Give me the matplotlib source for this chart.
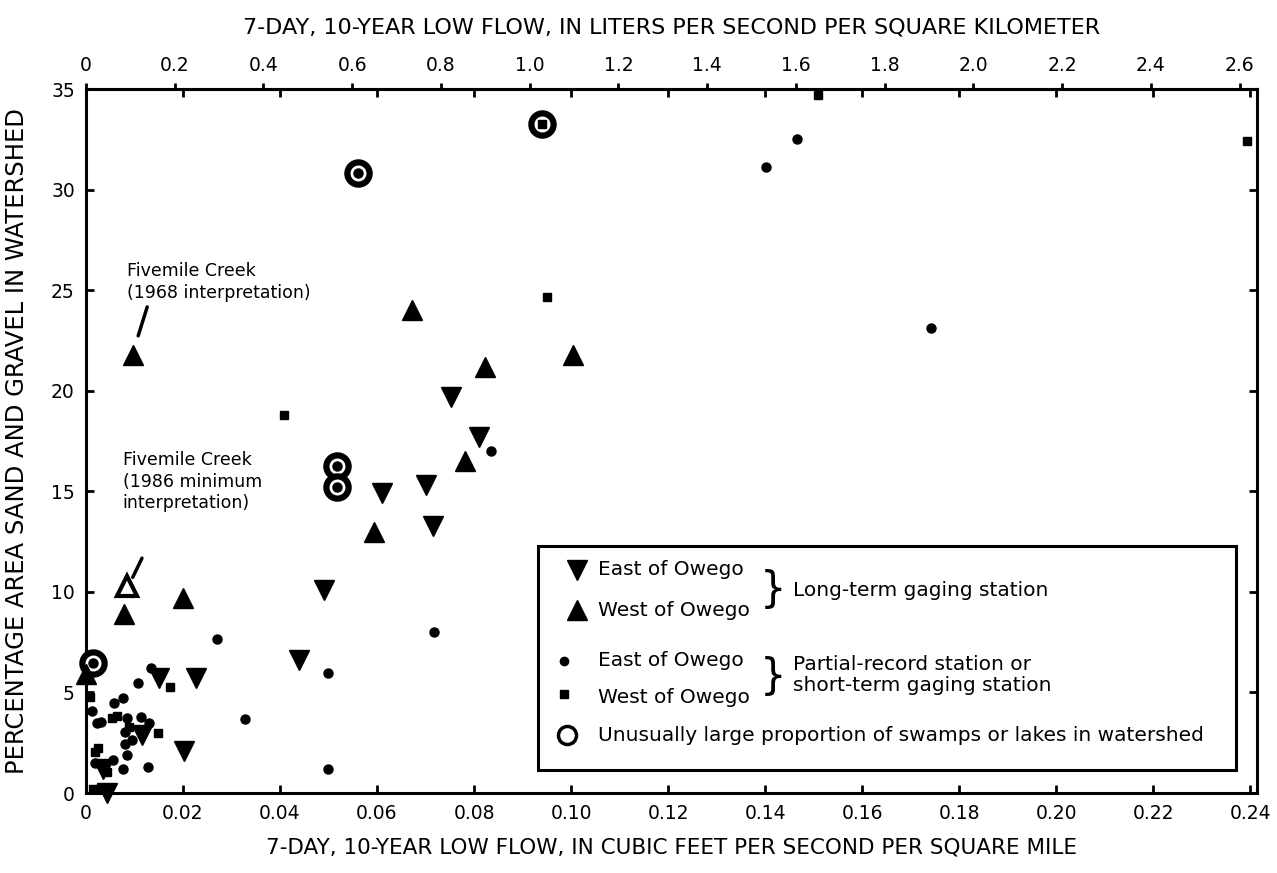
import matplotlib.pyplot as plt
from matplotlib.patches import Rectangle

plt.rcParams['font.family'] = ['DejaVu Sans']

# long-term gaging stations (cfs per sq mi, percent sand and gravel)
lt_east_x = [0.0752, 0.0810, 0.0610, 0.0701, 0.0716, 0.0491, 0.0439, 0.0151, 0.0227, 0.0115, 0.0203, 0.0036, 0.0043]
lt_east_y = [19.7, 17.7, 14.9, 15.3, 13.3, 10.1, 6.6, 5.7, 5.7, 2.9, 2.1, 1.2, 0.0]

lt_west_x = [0.0098, 0.0201, 0.0079, 0.0, 0.0594, 0.0781, 0.0672, 0.0823, 0.1005]
lt_west_y = [21.8, 9.7, 8.9, 5.9, 13.0, 16.5, 24.0, 21.2, 21.8]

# Fivemile Creek, 1986 minimum interpretation
fm86_x = [0.0084]
fm86_y = [10.3]

# partial-record or short-term stations
pr_east_x = [0.0270, 0.0135, 0.0107, 0.0076, 0.0058, 0.0012, 0.0328, 0.0022, 0.0032, 0.0084,
             0.0113, 0.0130, 0.0080, 0.0094, 0.0080, 0.0085, 0.0056, 0.0019, 0.0076, 0.0128,
             0.0500, 0.0498, 0.0834, 0.1465, 0.1402, 0.1742, 0.0718, 0.0025,
             0.0014, 0.0518, 0.0518, 0.0561]
pr_east_y = [7.65, 6.24, 5.49, 4.71, 4.49, 4.10, 3.68, 3.47, 3.55, 3.72,
             3.76, 3.47, 3.05, 2.64, 2.43, 1.89, 1.64, 1.48, 1.17, 1.31,
             5.96, 1.17, 16.98, 32.5, 31.1, 23.13, 8.0, 0.2,
             6.46, 16.28, 15.22, 30.81]

pr_west_x = [0.0173, 0.0008, 0.0053, 0.0063, 0.0089, 0.0149, 0.0019, 0.0025, 0.0043, 0.0015,
             0.0408, 0.0951, 0.1510, 0.2393, 0.0940]
pr_west_y = [5.29, 4.79, 3.72, 3.83, 3.30, 2.96, 2.06, 2.23, 1.06, 0.18,
             18.8, 24.65, 34.69, 32.42, 33.25]

# stations with many swamps or lakes (circled)
swamp_x = [0.0014, 0.0518, 0.0518, 0.0561, 0.0940]
swamp_y = [6.46, 16.28, 15.22, 30.81, 33.25]

CFS_TO_LPS = 10.933

fig = plt.figure(figsize=(12.77, 8.73), dpi=100)
ax = fig.add_axes([0.0673, 0.0916, 0.9170, 0.8064])

ax.plot(swamp_x, swamp_y, 'o', ms=16, mfc='white', mec='black', mew=4.5, clip_on=False, zorder=3)
ax.plot(lt_east_x, lt_east_y, 'v', ms=15, color='black', clip_on=False, zorder=4)
ax.plot(lt_west_x, lt_west_y, '^', ms=15, color='black', clip_on=False, zorder=4)
ax.plot(fm86_x, fm86_y, '^', ms=14, mfc='white', mec='black', mew=3, clip_on=False, zorder=4)
ax.plot(pr_east_x, pr_east_y, 'o', ms=6.5, color='black', clip_on=False, zorder=4)
ax.plot(pr_west_x, pr_west_y, 's', ms=6, color='black', clip_on=False, zorder=4)

ax.set_xlim(0, 0.2414)
ax.set_ylim(0, 35)
ax.set_xticks([i * 0.02 for i in range(13)])
ax.set_xticklabels(['0', '0.02', '0.04', '0.06', '0.08', '0.10', '0.12', '0.14',
                    '0.16', '0.18', '0.20', '0.22', '0.24'])
ax.set_yticks(range(0, 36, 5))
ax.tick_params(direction='in', top=True, right=True, length=6, width=2,
               labelsize=13.5, pad=8)
for s in ax.spines.values():
    s.set_linewidth(2.2)

ax.set_xlabel('7-DAY, 10-YEAR LOW FLOW, IN CUBIC FEET PER SECOND PER SQUARE MILE',
              fontsize=15.5, labelpad=10)
ax.set_ylabel('PERCENTAGE AREA SAND AND GRAVEL IN WATERSHED', fontsize=17.5)
ax.yaxis.set_label_coords(-0.049, 0.5)

top = ax.secondary_xaxis('top', functions=(lambda v: v * CFS_TO_LPS, lambda v: v / CFS_TO_LPS))
top.set_xticks([i * 0.2 for i in range(14)])
top.set_xticklabels(['0', '0.2', '0.4', '0.6', '0.8', '1.0', '1.2', '1.4', '1.6',
                     '1.8', '2.0', '2.2', '2.4', '2.6'])
top.tick_params(direction='out', length=4, width=2, labelsize=13.5, pad=6)
top.spines['top'].set_linewidth(2.2)
top.set_xlabel('7-DAY, 10-YEAR LOW FLOW, IN LITERS PER SECOND PER SQUARE KILOMETER',
               fontsize=16, labelpad=16)

# annotations for Fivemile Creek
ax.text(0.0085, 26.4, 'Fivemile Creek\n(1968 interpretation)', fontsize=12.5,
        va='top', ha='left', linespacing=1.3)
ax.annotate('', xy=(0.0106, 22.6), xytext=(0.0128, 24.3),
            arrowprops=dict(arrowstyle='-', lw=2.5, color='black'))
ax.text(0.0076, 17.0, 'Fivemile Creek\n(1986 minimum\ninterpretation)', fontsize=12.5,
        va='top', ha='left', linespacing=1.25)
ax.annotate('', xy=(0.0094, 10.6), xytext=(0.0118, 11.8),
            arrowprops=dict(arrowstyle='-', lw=2.5, color='black'))

# hand-built legend box
tr = ax.transAxes
ax.add_patch(Rectangle((0.386, 0.033), 0.596, 0.318, transform=tr, fill=True,
                       facecolor='white', edgecolor='black', lw=2.2, zorder=5))
ax.plot([0.419], [0.317], 'v', ms=15, color='black', transform=tr, zorder=6)
ax.plot([0.419], [0.260], '^', ms=15, color='black', transform=tr, zorder=6)
ax.plot([0.408], [0.188], 'o', ms=6, color='black', transform=tr, zorder=6)
ax.plot([0.408], [0.141], 's', ms=6, color='black', transform=tr, zorder=6)
ax.plot([0.411], [0.082], 'o', ms=13, mfc='white', mec='black', mew=2.5, transform=tr, zorder=6)
leg = dict(transform=tr, fontsize=14.5, va='center', ha='left', zorder=6)
ax.text(0.437, 0.318, 'East of Owego', **leg)
ax.text(0.437, 0.259, 'West of Owego', **leg)
ax.text(0.437, 0.188, 'East of Owego', **leg)
ax.text(0.437, 0.136, 'West of Owego', **leg)
ax.text(0.437, 0.082, 'Unusually large proportion of swamps or lakes in watershed', **leg)
ax.text(0.575, 0.288, '}', transform=tr, fontsize=30, va='center', ha='left', zorder=6)
ax.text(0.575, 0.165, '}', transform=tr, fontsize=30, va='center', ha='left', zorder=6)
ax.text(0.604, 0.288, 'Long-term gaging station', **leg)
ax.text(0.604, 0.168, 'Partial-record station or\nshort-term gaging station', **dict(leg, linespacing=1.1))

fig.savefig('out.png', dpi=100)
